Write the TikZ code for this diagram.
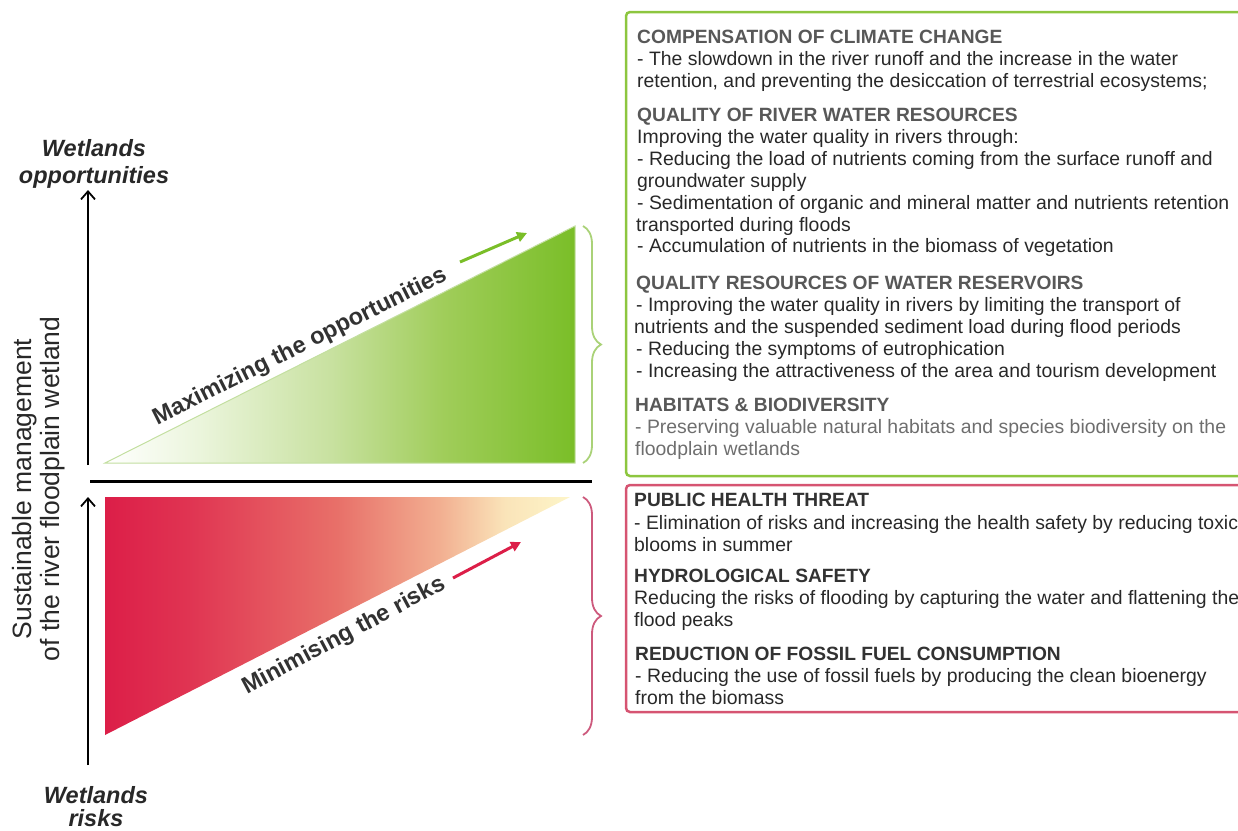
\documentclass[tikz,border=0pt]{standalone}
\usepackage{fontspec}
\setmainfont{Liberation Sans}
\usetikzlibrary{arrows.meta,decorations.pathreplacing}
\definecolor{gbox}{RGB}{141,198,63}
\definecolor{rbox}{RGB}{214,84,114}
\definecolor{gA}{RGB}{235,245,220}
\definecolor{gB}{RGB}{200,225,160}
\definecolor{gC}{RGB}{160,205,90}
\definecolor{gD}{RGB}{122,190,40}
\definecolor{rA}{RGB}{220,30,72}
\definecolor{rB}{RGB}{224,52,82}
\definecolor{rC}{RGB}{232,112,105}
\definecolor{rD}{RGB}{242,175,145}
\definecolor{rE}{RGB}{250,228,185}
\definecolor{rF}{RGB}{253,245,200}
\definecolor{txt}{RGB}{40,40,40}
\definecolor{headg}{RGB}{88,88,88}
\definecolor{headr}{RGB}{50,50,50}
\definecolor{light}{RGB}{110,110,110}
\definecolor{gbrace}{RGB}{170,210,120}
\definecolor{rbrace}{RGB}{205,90,125}
\pgfdeclarehorizontalshading{greenshade}{100bp}{color(0bp)=(white); color(25bp)=(white); color(35bp)=(gA); color(49bp)=(gB); color(61bp)=(gC); color(75bp)=(gD); color(100bp)=(gD)}
\pgfdeclarehorizontalshading{redshade}{100bp}{color(0bp)=(rA); color(25bp)=(rA); color(34bp)=(rB); color(50bp)=(rC); color(61bp)=(rD); color(68bp)=(rE); color(75bp)=(rF); color(100bp)=(rF)}
\tikzset{
  body/.style={anchor=base west, inner sep=0pt, text=txt, font=\fontsize{19.4}{22}\selectfont},
  headG/.style={anchor=base west, inner sep=0pt, text=headg, font=\bfseries\fontsize{19.2}{22}\selectfont},
  headR/.style={anchor=base west, inner sep=0pt, text=headr, font=\bfseries\fontsize{19.2}{22}\selectfont},
  lbl/.style={anchor=base, inner sep=0pt, text=txt, font=\bfseries\itshape\fontsize{23.5}{27}\selectfont},
  slope/.style={inner sep=0pt, text=headr, font=\bfseries\fontsize{23.5}{26}\selectfont},
  axisarrow/.style={line width=1.8pt, -{Straight Barb[length=8pt,width=14pt,line width=1.8pt]}},
  outbox/.style={line width=2.5pt, rounded corners=4pt},
}
\begin{document}
\begin{tikzpicture}[x=1pt,y=-1pt]
\useasboundingbox (0,0) rectangle (1238,830);
% triangles
\path[shading=greenshade, draw=gbrace!70, line width=1pt] (105,463) -- (575,226) -- (575,463) -- cycle;
\path[shading=redshade] (105,497) -- (570,497) -- (105,735) -- cycle;
% separator line
\coordinate (sepL) at (90,481);
\coordinate (sepR) at (592,481);
\draw[line width=3pt] (sepL) -- (sepR);
% axes
\coordinate (a1s) at (88,465);
\coordinate (a1e) at (88,190);
\coordinate (a2s) at (88,765);
\coordinate (a2e) at (88,497);
\draw[axisarrow] (a1s) -- (a1e);
\draw[axisarrow] (a2s) -- (a2e);
% slope arrows
\coordinate (ga1) at (460,262);
\coordinate (ga2) at (527,233);
\draw[gD, line width=3pt, -{Triangle[length=10pt,width=10pt]}] (ga1) -- (ga2);
\coordinate (ra1) at (453,578);
\coordinate (ra2) at (521,542);
\draw[rA, line width=3pt, -{Triangle[length=10pt,width=10pt]}] (ra1) -- (ra2);
% slope texts
\node[slope, rotate=26.6] (maxt) at (300,347) {Maximizing the opportunities};
\node[slope, rotate=28] (mint) at (344,636) {Minimising the risks};
% braces
\coordinate (gb1) at (583,226);
\coordinate (gb2) at (583,463);
\draw[gbrace, line width=1.8pt, decorate, decoration={brace, amplitude=18pt, aspect=0.5}] (gb1) -- (gb2);
\coordinate (rb1) at (583,497);
\coordinate (rb2) at (583,735);
\draw[rbrace, line width=1.8pt, decorate, decoration={brace, amplitude=18pt, aspect=0.5}] (rb1) -- (rb2);
% left labels
\node[lbl] (w1) at (94,156) {Wetlands};
\node[lbl] (w2) at (94,183) {opportunities};
\node[lbl] (w3) at (96,803) {Wetlands};
\node[lbl] (w4) at (96,826) {risks};
\node[rotate=90, align=center, inner sep=0pt, text=txt, font=\fontsize{26.5}{27.5}\selectfont] (sust) at (38.5,489) {Sustainable management\\of the river floodplain wetland};
% boxes
\draw[gbox, outbox] (626,12) rectangle (1260,476);
\draw[rbox, outbox] (626,485) rectangle (1260,712);
% green box text
\node[headG] (h1) at (637,43) {COMPENSATION OF CLIMATE CHANGE};
\node[body] (t11) at (637,65) {- The slowdown in the river runoff and the increase in the water};
\node[body] (t12) at (637,87) {retention, and preventing the desiccation of terrestrial ecosystems;};
\node[headG] (h2) at (637,121) {QUALITY OF RIVER WATER RESOURCES};
\node[body] (t21) at (637,143) {Improving the water quality in rivers through:};
\node[body] (t22) at (637,165) {- Reducing the load of nutrients coming from the surface runoff and};
\node[body] (t23) at (637,187) {groundwater supply};
\node[body] (t24) at (637,209) {- Sedimentation of organic and mineral matter and nutrients retention};
\node[body] (t25) at (636,231) {transported during floods};
\node[body] (t26) at (637,252) {- Accumulation of nutrients in the biomass of vegetation};
\node[headG] (h3) at (636,289) {QUALITY RESOURCES OF WATER RESERVOIRS};
\node[body] (t31) at (636,311) {- Improving the water quality in rivers by limiting the transport of};
\node[body] (t32) at (634,333) {nutrients and the suspended sediment load during flood periods};
\node[body] (t33) at (636,355) {- Reducing the symptoms of eutrophication};
\node[body] (t34) at (636,377) {- Increasing the attractiveness of the area and tourism development};
\node[headG] (h4) at (635,411) {HABITATS \& BIODIVERSITY};
\node[body, text=light] (t41) at (635,433) {- Preserving valuable natural habitats and species biodiversity on the};
\node[body, text=light] (t42) at (635,455) {floodplain wetlands};
% red box text
\node[headR] (h5) at (634,506) {PUBLIC HEALTH THREAT};
\node[body] (t51) at (634,529) {- Elimination of risks and increasing the health safety by reducing toxic};
\node[body] (t52) at (634,551) {blooms in summer};
\node[headR] (h6) at (634,582) {HYDROLOGICAL SAFETY};
\node[body] (t61) at (634,604) {Reducing the risks of flooding by capturing the water and flattening the};
\node[body] (t62) at (634,626) {flood peaks};
\node[headR] (h7) at (635,660) {REDUCTION OF FOSSIL FUEL CONSUMPTION};
\node[body] (t71) at (635,682) {- Reducing the use of fossil fuels by producing the clean bioenergy};
\node[body] (t72) at (635,704) {from the biomass};
\end{tikzpicture}
\end{document}
